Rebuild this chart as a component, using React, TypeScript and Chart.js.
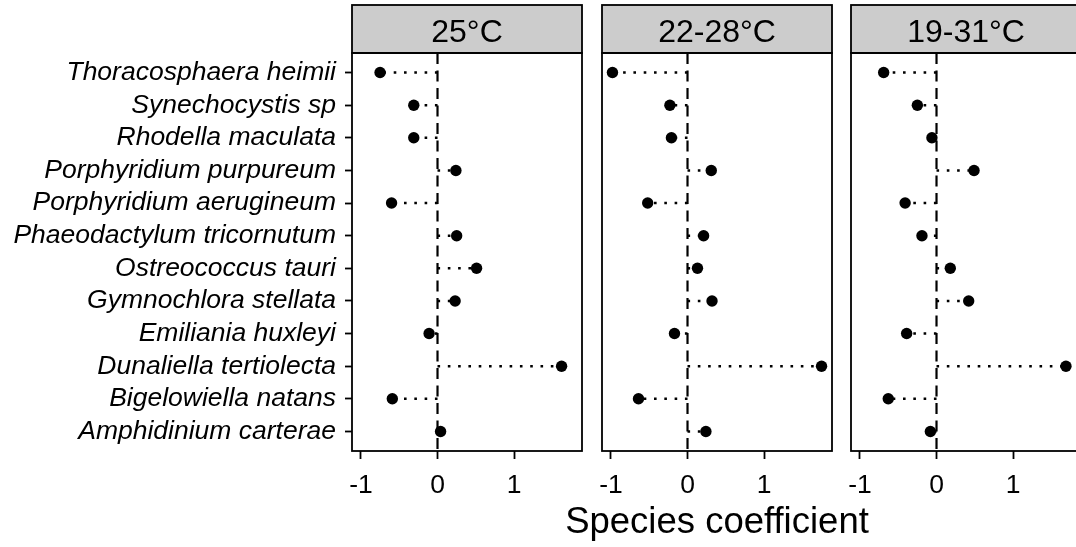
import React, { useEffect, useRef } from 'react';
import { Chart, registerables } from 'chart.js';

Chart.register(...registerables);

// Species, top to bottom
const species = [
  'Thoracosphaera heimii',
  'Synechocystis sp',
  'Rhodella maculata',
  'Porphyridium purpureum',
  'Porphyridium aerugineum',
  'Phaeodactylum tricornutum',
  'Ostreococcus tauri',
  'Gymnochlora stellata',
  'Emiliania huxleyi',
  'Dunaliella tertiolecta',
  'Bigelowiella natans',
  'Amphidinium carterae',
];

const panelTitles = ['25°C', '22-28°C', '19-31°C'];

const coef25 = [-0.75, -0.31, -0.31, 0.24, -0.6, 0.25, 0.51, 0.23, -0.11, 1.62, -0.59, 0.04];
const coef22to28 = [-0.98, -0.23, -0.21, 0.31, -0.52, 0.21, 0.13, 0.32, -0.17, 1.75, -0.64, 0.24];
const coef19to31 = [-0.69, -0.25, -0.06, 0.49, -0.41, -0.19, 0.18, 0.42, -0.39, 1.69, -0.63, -0.08];

const panelValues = [coef25, coef22to28, coef19to31];

const xTicks = [-1, 0, 1];
const xTitle = 'Species coefficient';

const FONT = "'Liberation Sans', Arial, Helvetica, sans-serif";
const W = 1076;
const H = 547;

// shared x limits: data range (including the zero line) padded by 5%
const allValues = panelValues.flat();
const lo = Math.min(0, ...allValues);
const hi = Math.max(0, ...allValues);
const xPad = (hi - lo) * 0.05;
const xMin = lo - xPad;
const xMax = hi + xPad;
const yMin = -0.6;
const yMax = species.length - 1 + 0.6;

// facet geometry
const plotW = 230;
const plotTop = 53;
const plotBottom = 451;
const stripTop = 5;
const frameW = 1.8;
const panels = [
  { left: 0, width: 590, inset: 352 },
  { left: 590, width: 250, inset: 12 },
  { left: 839, width: 250, inset: 12 },
];

const facetPlugin = {
  id: 'facet',
  beforeDatasetsDraw(chart: any) {
    const { ctx, chartArea: a, scales } = chart;
    const px = scales.x.getPixelForValue(0);
    ctx.save();
    ctx.strokeStyle = '#000';
    ctx.lineWidth = 2.2;
    ctx.setLineDash([11, 6.5]);
    ctx.beginPath();
    ctx.moveTo(px, a.top);
    ctx.lineTo(px, a.bottom);
    ctx.stroke();
    ctx.restore();
  },
  afterDraw(chart: any, _args: any, opts: any) {
    const { ctx, chartArea: a } = chart;
    ctx.save();
    // strip
    ctx.fillStyle = '#cccccc';
    ctx.fillRect(a.left, stripTop, a.right - a.left, a.top - stripTop);
    ctx.strokeStyle = '#000';
    ctx.lineWidth = frameW;
    ctx.strokeRect(a.left, stripTop, a.right - a.left, a.top - stripTop);
    // panel frame
    ctx.strokeRect(a.left, a.top, a.right - a.left, a.bottom - a.top);
    // strip label
    ctx.fillStyle = '#000';
    ctx.font = `32px ${FONT}`;
    ctx.textAlign = 'center';
    ctx.textBaseline = 'alphabetic';
    ctx.fillText(opts.title, (a.left + a.right) / 2, 41.5);
    ctx.restore();
  },
};

function Panel({ index }: { index: number }) {
  const ref = useRef<HTMLCanvasElement>(null);
  const g = panels[index];

  useEffect(() => {
    if (!ref.current) return;
    const vals = panelValues[index];
    const first = index === 0;

    const segments = vals.map((v, i) => ({
      type: 'line' as const,
      data: [
        { x: 0, y: i },
        { x: v, y: i },
      ],
      borderColor: '#000',
      borderWidth: 2.6,
      borderDash: [2.6, 7.7],
      borderCapStyle: 'butt' as const,
      pointRadius: 0,
      fill: false,
      tension: 0,
      showLine: true,
    }));

    const chart = new Chart(ref.current, {
      type: 'scatter',
      data: {
        datasets: [
          {
            data: vals.map((v, i) => ({ x: v, y: i })),
            backgroundColor: '#000',
            borderColor: '#000',
            borderWidth: 0,
            pointRadius: 5.7,
            showLine: false,
          },
          ...segments,
        ] as any,
      },
      options: {
        animation: false,
        responsive: false,
        events: [],
        layout: {
          padding: {
            top: plotTop,
            left: 0,
            right: g.width - g.inset - plotW,
            bottom: 0,
          },
        },
        plugins: {
          legend: { display: false },
          tooltip: { enabled: false },
          title: { display: false },
          facet: { title: panelTitles[index] },
        } as any,
        scales: {
          x: {
            type: 'linear',
            min: xMin,
            max: xMax,
            afterBuildTicks: (s: any) => {
              s.ticks = xTicks.map((v) => ({ value: v }));
            },
            afterFit: (s: any) => {
              s.height = H - plotBottom;
              s.paddingLeft = 0;
              s.paddingRight = 0;
            },
            grid: {
              display: true,
              drawOnChartArea: false,
              drawTicks: true,
              tickLength: 8,
              tickWidth: frameW,
              tickColor: '#000',
            },
            border: { display: false },
            ticks: {
              color: '#000',
              font: { family: FONT, size: 26.5 },
              padding: 11,
              maxRotation: 0,
              autoSkip: false,
              callback: (v: any) => String(v),
            },
          },
          y: {
            type: 'linear',
            reverse: true,
            min: yMin,
            max: yMax,
            display: first,
            afterBuildTicks: (s: any) => {
              s.ticks = species.map((_, i) => ({ value: i }));
            },
            afterFit: (s: any) => {
              s.width = g.inset;
              s.paddingTop = 0;
              s.paddingBottom = 0;
            },
            grid: {
              display: true,
              drawOnChartArea: false,
              drawTicks: true,
              tickLength: 7,
              tickWidth: frameW,
              tickColor: '#000',
            },
            border: { display: false },
            ticks: {
              color: '#000',
              font: { family: FONT, size: 26.5, style: 'italic' },
              padding: 9,
              autoSkip: false,
              callback: (_v: any, i: number) => species[i],
            },
          },
        },
      } as any,
      plugins: [facetPlugin],
    });
    return () => chart.destroy();
  }, [index]);

  return (
    <canvas
      ref={ref}
      width={g.width}
      height={H}
      style={{ position: 'absolute', left: g.left, top: 0, width: g.width, height: H }}
    />
  );
}

export default function App() {
  // the axis title is centred under the middle facet
  const mid = panels[1];
  const titleCenter = mid.left + mid.inset + plotW / 2;
  return (
    <div
      style={{
        position: 'absolute',
        left: 0,
        top: 0,
        width: W,
        height: H,
        overflow: 'hidden',
        background: '#fff',
      }}
    >
      {panels.map((_, i) => (
        <Panel key={i} index={i} />
      ))}
      <div
        style={{
          position: 'absolute',
          left: titleCenter - 300,
          width: 600,
          top: 503,
          textAlign: 'center',
          fontFamily: FONT,
          fontSize: 36.5,
          lineHeight: 1,
          color: '#000',
          whiteSpace: 'nowrap',
        }}
      >
        {xTitle}
      </div>
    </div>
  );
}
